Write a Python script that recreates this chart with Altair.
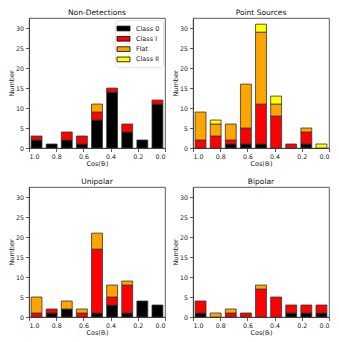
import altair as alt
import pandas as pd
import numpy as np

classes = ["Class 0", "Class I", "Flat", "Class II"]
colors = ["black", "red", "orange", "yellow"]
panels = ["Non-Detections", "Point Sources", "Unipolar", "Bipolar"]
n_bins = 9

# counts per bin, bins ordered from cos=1.0 (left) to cos=0.0 (right)
nd_class0 = [2, 1, 2, 1, 7, 14, 4, 2, 11]
nd_class1 = [1, 0, 2, 2, 2, 1, 2, 0, 1]
nd_flat = [0, 0, 0, 0, 2, 0, 0, 0, 0]
nd_class2 = [0, 0, 0, 0, 0, 0, 0, 0, 0]

ps_class0 = [0, 0, 1, 1, 1, 0, 0, 1, 0]
ps_class1 = [2, 3, 1, 4, 10, 8, 1, 3, 0]
ps_flat = [7, 3, 4, 11, 18, 3, 0, 1, 0]
ps_class2 = [0, 1, 0, 0, 2, 2, 0, 0, 1]

un_class0 = [0, 1, 2, 0, 1, 3, 1, 4, 3]
un_class1 = [1, 1, 0, 1, 16, 2, 7, 0, 0]
un_flat = [4, 0, 2, 1, 4, 3, 1, 0, 0]
un_class2 = [0, 0, 0, 0, 0, 0, 0, 0, 0]

bp_class0 = [1, 0, 0, 0, 0, 0, 1, 1, 1]
bp_class1 = [3, 0, 1, 1, 7, 5, 2, 2, 2]
bp_flat = [0, 1, 1, 0, 1, 0, 0, 0, 0]
bp_class2 = [0, 0, 0, 0, 0, 0, 0, 0, 0]

counts = {
    "Non-Detections": [nd_class0, nd_class1, nd_flat, nd_class2],
    "Point Sources": [ps_class0, ps_class1, ps_flat, ps_class2],
    "Unipolar": [un_class0, un_class1, un_flat, un_class2],
    "Bipolar": [bp_class0, bp_class1, bp_flat, bp_class2],
}

edges = np.linspace(1.0, 0.0, n_bins + 1)
rwidth = 0.72

rows = []
for p in panels:
    for b in range(n_bins):
        center = (edges[b] + edges[b + 1]) / 2
        half = (edges[b] - edges[b + 1]) * rwidth / 2
        base = 0
        for ci, cls in enumerate(classes):
            v = counts[p][ci][b]
            if v > 0:
                rows.append(dict(panel=p, cls=cls, order=ci,
                                 xa=center + half, xb=center - half,
                                 y0=base, y1=base + v))
            base += v
df = pd.DataFrame(rows)

FONT = "DejaVu Sans"


def panel(name, show_legend):
    d = df[df.panel == name]
    if show_legend:
        legend = alt.Legend(
            title=None, orient="top-right", offset=2,
            symbolType="M-1.3,-0.47H1.3V0.47H-1.3Z", symbolSize=100,
            symbolStrokeColor="black", symbolStrokeWidth=0.8,
            labelFontSize=6.5, labelFont=FONT, labelColor="#222",
            rowPadding=0.3, padding=3, strokeColor="#e4e4e4", fillColor="white",
            cornerRadius=3, labelOffset=7,
        )
    else:
        legend = None
    return alt.Chart(d).mark_rect(stroke="#333", strokeWidth=0.8).encode(
        x=alt.X("xa:Q", scale=alt.Scale(domain=[0, 1], reverse=True, nice=False, zero=False),
                axis=alt.Axis(values=[1.0, 0.8, 0.6, 0.4, 0.2, 0.0], format=".1f",
                              title="Cos(θᵢ)")),
        x2="xb:Q",
        y=alt.Y("y1:Q", scale=alt.Scale(domain=[0, 32.55], nice=False),
                axis=alt.Axis(values=[0, 5, 10, 15, 20, 25, 30], title="Number")),
        y2="y0:Q",
        color=alt.Color("cls:N", scale=alt.Scale(domain=classes, range=colors), legend=legend),
    ).properties(width=136, height=130, title=name)


chart = alt.concat(
    panel(panels[0], True), panel(panels[1], False),
    panel(panels[2], False), panel(panels[3], False),
    columns=2, spacing={"row": 39, "column": 28}, bounds="flush",
).resolve_scale(color="independent").resolve_legend(color="independent").properties(
    padding={"left": 0, "top": 0, "right": 0, "bottom": 0}
).configure_view(
    stroke="#333", strokeWidth=0.8
).configure_axis(
    labelFont=FONT, titleFont=FONT, labelFontSize=6.3, titleFontSize=6.5,
    labelColor="#222", titleColor="#222", titleFontWeight="normal",
    tickSize=3.5, tickColor="#333", domainColor="#333", domainWidth=0.8, tickWidth=0.8,
    grid=False, labelPadding=2, titlePadding=1,
).configure_title(
    font=FONT, fontSize=7.5, fontWeight="normal", color="#111", offset=2,
)

chart.save("out.html", embed_options={"renderer": "svg", "actions": False})
